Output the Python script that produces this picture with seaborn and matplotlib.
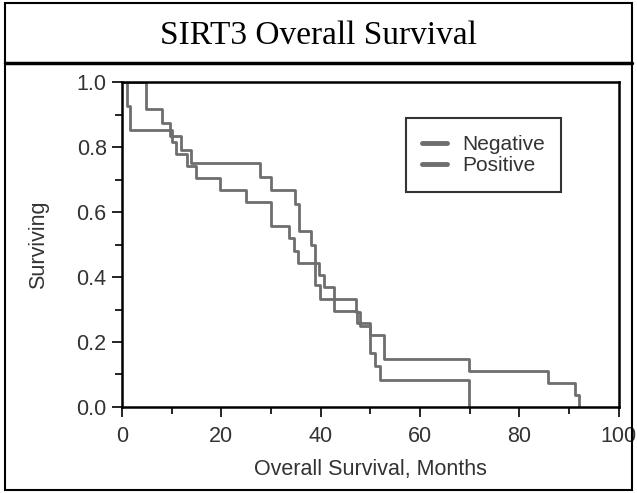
import pandas as pd
import matplotlib
matplotlib.use("Agg")
import matplotlib.pyplot as plt
from matplotlib.patches import Rectangle
from matplotlib.lines import Line2D
import seaborn as sns

# Kaplan-Meier step points (months, fraction surviving)
neg_months = [0, 1.0, 1.6, 10.0, 10.8, 13.0, 14.8, 19.8, 25.0, 29.9, 33.6, 34.6,
              35.5, 39.6, 40.6, 42.7, 47.4, 50.0, 52.7, 69.8, 85.8, 91.2, 92.0]
neg_surv = [1.0, 0.926, 0.852, 0.815, 0.778, 0.741, 0.704, 0.667, 0.630, 0.556, 0.519, 0.481,
            0.444, 0.407, 0.370, 0.296, 0.259, 0.222, 0.148, 0.111, 0.074, 0.037, 0.0]

pos_months = [0, 4.8, 8.0, 9.7, 11.9, 13.8, 27.8, 29.9, 34.9, 35.7, 38.0, 38.9,
              39.9, 47.0, 48.0, 50.0, 51.0, 51.9, 69.8]
pos_surv = [1.0, 0.917, 0.875, 0.833, 0.792, 0.750, 0.708, 0.667, 0.625, 0.542, 0.500, 0.375,
            0.333, 0.292, 0.250, 0.167, 0.125, 0.083, 0.0]

groups = ["Negative", "Positive"]
x_ticks = [0, 20, 40, 60, 80, 100]
y_ticks = [0.0, 0.2, 0.4, 0.6, 0.8, 1.0]

df = pd.concat([
    pd.DataFrame({"months": neg_months, "surv": neg_surv, "group": groups[0]}),
    pd.DataFrame({"months": pos_months, "surv": pos_surv, "group": groups[1]}),
])

sns.set_theme(style="ticks")
plt.rcParams["font.family"] = ["Liberation Sans", "DejaVu Sans"]

fig = plt.figure(figsize=(6.37, 4.93), dpi=100)
ax = fig.add_axes([0.1915, 0.1745, 0.780, 0.659])

line_gray = "#6e6e6e"
sns.lineplot(
    data=df, x="months", y="surv", hue="group", hue_order=groups,
    palette={groups[0]: line_gray, groups[1]: line_gray},
    estimator=None, drawstyle="steps-post", linewidth=2.0, ax=ax,
)

ax.set_xlim(0, 100)
ax.set_ylim(0, 1.0)
ax.set_xticks(x_ticks)
ax.set_yticks(y_ticks)
ax.set_xticks([10, 30, 50, 70, 90], minor=True)
ax.set_yticks([0.1, 0.3, 0.5, 0.7, 0.9], minor=True)
ax.set_yticklabels([f"{v:.1f}" for v in y_ticks])
ax.tick_params(which="major", length=7, width=1.2, labelsize=15.5,
               labelcolor="#333333", color="black", direction="out", pad=4)
ax.tick_params(axis="x", which="major", pad=7)
ax.tick_params(which="minor", length=5, width=1.2, color="black", direction="out")
for side in ["left", "right", "top", "bottom"]:
    ax.spines[side].set_visible(True)
    ax.spines[side].set_linewidth(1.8)
    ax.spines[side].set_color("black")

ax.set_xlabel("Overall Survival, Months", fontsize=15.5, color="#333333", labelpad=8)
ax.set_ylabel("Surviving", fontsize=15.5, color="#333333", labelpad=20)

leg = ax.legend(
    loc="upper left", bbox_to_anchor=(0.571, 0.889), fontsize=15,
    frameon=True, fancybox=False, handlelength=1.2, handletextpad=0.7,
    borderpad=0.8, labelspacing=0.1, borderaxespad=0,
)
leg.get_frame().set_edgecolor("black")
leg.get_frame().set_linewidth(1.5)
for h in leg.get_lines():
    h.set_linewidth(3.5)
for t in leg.get_texts():
    t.set_color("#333333")

# outer frame and title box
fig.patches.append(Rectangle((5 / 637, 3 / 493), 627 / 637, 487 / 493,
                             transform=fig.transFigure, fill=False,
                             edgecolor="black", linewidth=1.5))
fig.lines.append(Line2D([5 / 637, 632 / 637], [1 - 63 / 493, 1 - 63 / 493],
                        transform=fig.transFigure, color="black", linewidth=2.5))
fig.text(0.5, 1 - 36 / 493, "SIRT3 Overall Survival", ha="center", va="center",
         fontsize=24, family=["Liberation Serif", "DejaVu Serif"], color="black")

fig.savefig("out.png", dpi=100)
